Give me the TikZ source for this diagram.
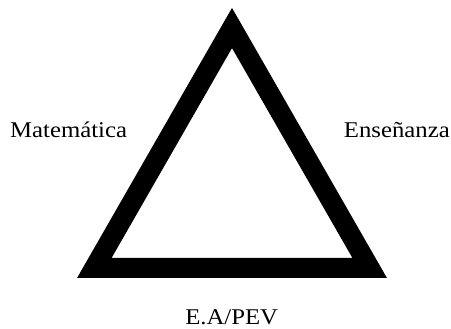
\documentclass[tikz,border=0pt]{standalone}
\usepackage{fontspec}
\setmainfont{Liberation Serif}
\begin{document}
\begin{tikzpicture}[x=1pt,y=-1pt,
  edge/.style={line width=20pt, line join=miter, draw=black},
  lbl/.style={inner sep=0pt, xscale=1.1, font=\fontsize{22.5}{25}\selectfont}]
\useasboundingbox (0,0) rectangle (451,329);
\coordinate (top) at (232,28);
\coordinate (bl) at (94.3,268);
\coordinate (br) at (369.7,268);
\draw[edge] (top) -- (bl) -- (br) -- cycle;
\node[lbl, anchor=base west] (mat) at (10,137.3) {Matemática};
\node[lbl, anchor=base east] (ens) at (450,137.3) {Enseñanza};
\node[lbl, anchor=base] (ea) at (231.7,325) {E.A/PEV};
\end{tikzpicture}
\end{document}
